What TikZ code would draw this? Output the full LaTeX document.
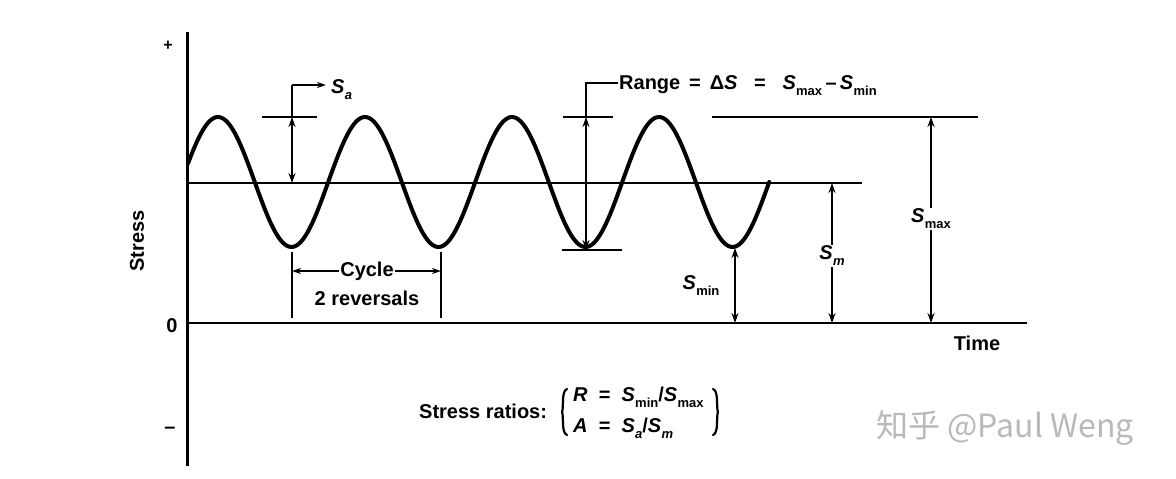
\documentclass[tikz,border=0pt]{standalone}
\usepackage{fontspec}
\setmainfont{Liberation Sans}
\newfontfamily\cjk{Noto Sans CJK SC}
\usetikzlibrary{arrows.meta}
\newcommand{\Sx}[1]{\textit{S}\kern0.3pt\raisebox{-0.3em}{\fontsize{13}{13}\selectfont #1}}
\begin{document}
\begin{tikzpicture}[x=1pt,y=-1pt,font=\fontsize{20}{24}\selectfont\bfseries,
  axisline/.style={line width=3pt},
  meanline/.style={line width=1.5pt},
  tickline/.style={line width=2pt},
  wave/.style={line width=4pt,line join=round,line cap=round},
  dim/.style={line width=1.8pt,{Stealth[length=10pt,width=7pt]}-{Stealth[length=10pt,width=7pt]}},
  lead/.style={line width=1.8pt},
  leadarrow/.style={line width=1.8pt,-{Stealth[length=9pt,width=6pt]}},
  bracepath/.style={line width=2.2pt,line cap=round},
  lbl/.style={inner sep=1pt,fill=white},
  txt/.style={inner sep=1pt}]
\useasboundingbox (0,0) rectangle (1176,479);
\fill[white] (0,0) rectangle (1176,479);
% axes
\coordinate (ytop) at (187,32);
\coordinate (ybot) at (187,466);
\draw[axisline] (ytop) -- (ybot);
\coordinate (z0) at (187,323);
\coordinate (z1) at (1027,323);
\draw[axisline,line width=2.5pt] (z0) -- (z1);
\coordinate (m0) at (187,183);
\coordinate (m1) at (862,183);
\draw[meanline] (m0) -- (m1);
\node[txt] (plus) at (168,46) {\fontsize{16}{16}\selectfont +};
\node[txt] (zero) at (172,326) {0};
\node[txt] (minus) at (170,430) {–};
\node[txt,rotate=90] (stress) at (137,241) {Stress};
\node[txt] (time) at (977,343) {Time};
% wave
\draw[wave] plot[domain=188:769.25,samples=300] (\x,{182-65*sin(2.44898*(\x-181.25))});
% S_a
\coordinate (sat1) at (262,117); \coordinate (sat2) at (317,117);
\draw[tickline] (sat1) -- (sat2);
\coordinate (sa1) at (292,117); \coordinate (sa2) at (292,183);
\draw[dim] (sa1) -- (sa2);
\node[txt,anchor=west] (Sa) at (330,90) {\Sx{\textit{a}}};
\coordinate (saK) at (292,85);
\draw[lead] (sa1) -- (saK);
\draw[leadarrow] (saK) -- ([xshift=-4pt]saK -| Sa.west);
% cycle
\coordinate (c1a) at (292,252); \coordinate (c1b) at (292,318);
\coordinate (c2a) at (441,252); \coordinate (c2b) at (441,318);
\draw[tickline] (c1a) -- (c1b);
\draw[tickline] (c2a) -- (c2b);
\node[txt] (cycle) at (367,271) {Cycle};
\node[txt] (rev) at (367,298) {2 reversals};
\draw[leadarrow] (cycle.west) -- (c1a |- cycle.west);
\draw[leadarrow] (cycle.east) -- (c2a |- cycle.east);
% range
\coordinate (rt1) at (563,117); \coordinate (rt2) at (613,117);
\coordinate (rb1) at (562,250); \coordinate (rb2) at (622,250);
\draw[tickline] (rt1) -- (rt2);
\draw[tickline] (rb1) -- (rb2);
\coordinate (r1) at (586,117); \coordinate (r2) at (586,250);
\draw[dim] (r1) -- (r2);
\node[txt,anchor=west] (range) at (618,86) {Range \,=\, Δ\textit{S} \ \ = \ \ \Sx{max}\,–\,\Sx{min}};
\coordinate (rK) at (586,83);
\draw[lead] (r1) -- (rK) -- (rK -| range.west);
% S_max
\coordinate (smx1) at (712,117); \coordinate (smx2) at (978,117);
\draw[tickline] (smx1) -- (smx2);
\coordinate (mx1) at (931,117); \coordinate (mx2) at (931,323);
\draw[dim] (mx1) -- (mx2);
\node[lbl] (Smax) at (931,219) {\Sx{max}};
% S_m
\coordinate (sm1) at (832,183); \coordinate (sm2) at (832,323);
\draw[dim] (sm1) -- (sm2);
\node[lbl] (Sm) at (832,256) {\Sx{\textit{m}}};
% S_min
\coordinate (sn1) at (735,248); \coordinate (sn2) at (735,323);
\draw[dim] (sn1) -- (sn2);
\node[txt] (Smin) at (701,286) {\Sx{min}};
% stress ratios
\node[txt,anchor=west] (sr) at (418,411) {Stress ratios:};
\node[txt,anchor=west] (rowR) at (572,397) {\textit{R} \ = \ \Sx{min}/\Sx{max}};
\node[txt,anchor=west] (rowA) at (572,428) {\textit{A} \ = \ \Sx{\textit{a}}/\Sx{\textit{m}}};
\coordinate (lb) at (562,412);
\coordinate (rb) at (718,412);
\draw[bracepath] ([shift={(5,-23)}]lb) .. controls ([shift={(-1,-21)}]lb) and ([shift={(2,-4)}]lb) .. (lb)
  .. controls ([shift={(2,4)}]lb) and ([shift={(-1,21)}]lb) .. ([shift={(5,23)}]lb);
\draw[bracepath] ([shift={(-5,-23)}]rb) .. controls ([shift={(1,-21)}]rb) and ([shift={(-2,-4)}]rb) .. (rb)
  .. controls ([shift={(-2,4)}]rb) and ([shift={(1,21)}]rb) .. ([shift={(-5,23)}]rb);
% watermark
\node[txt,text=gray!55,font=\cjk\fontsize{32}{36}\selectfont] (wm) at (1005,428) {知乎 @Paul Weng};
\end{tikzpicture}
\end{document}
